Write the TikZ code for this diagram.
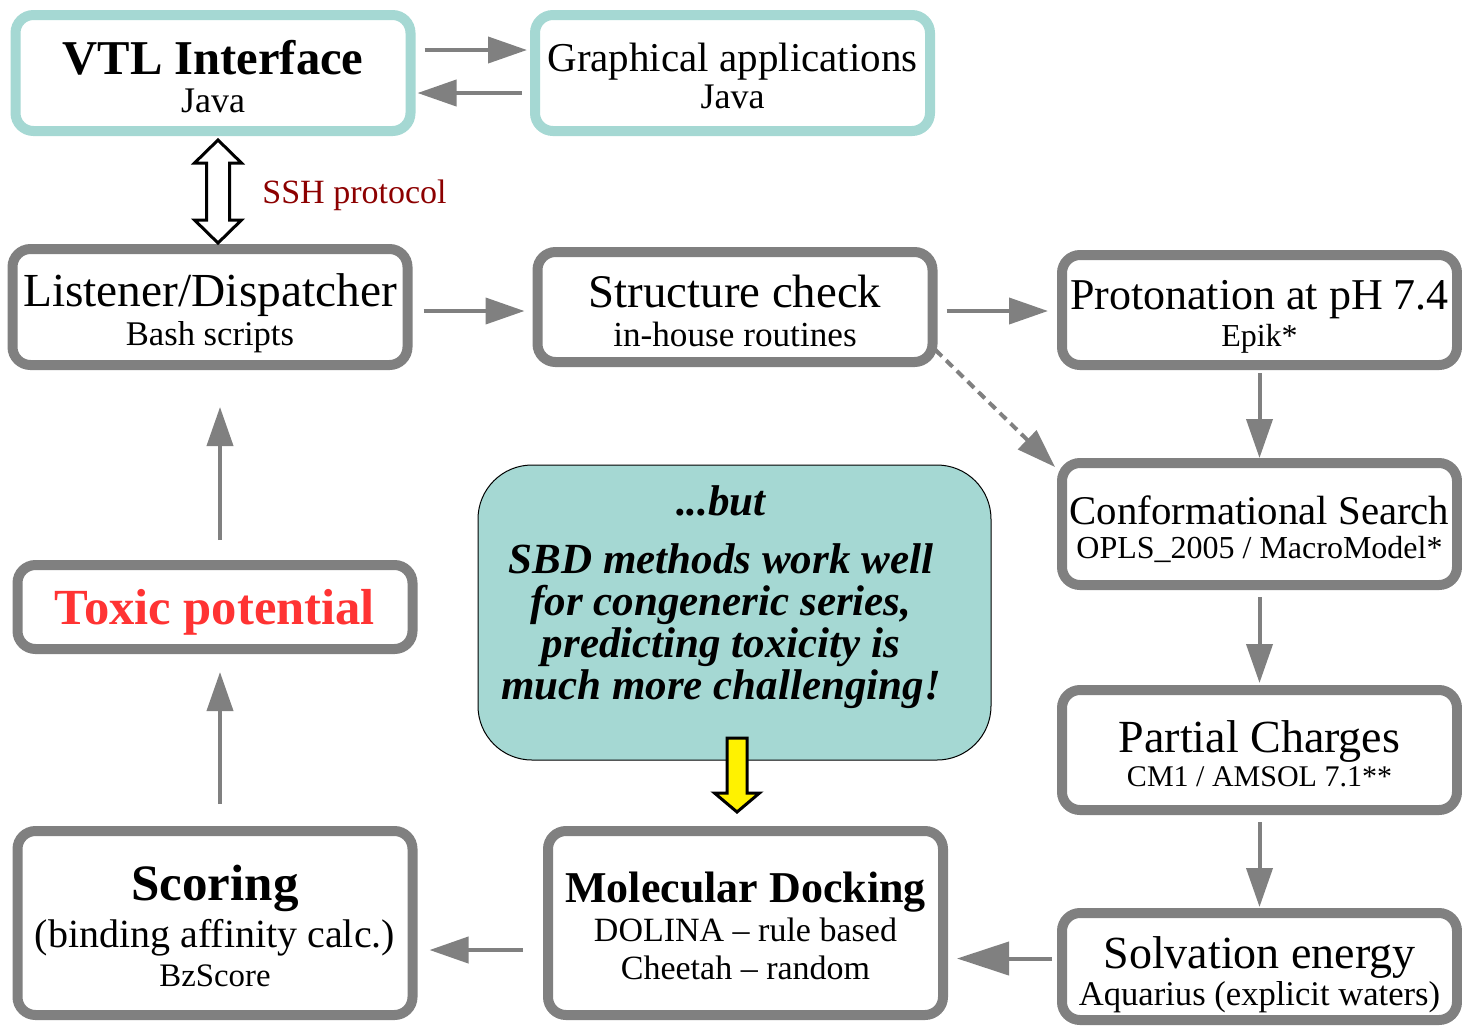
\documentclass[tikz,border=0pt]{standalone}
\usepackage{fontspec}
\setmainfont{Liberation Serif}
\usetikzlibrary{arrows.meta,calc}

\definecolor{boxgray}{RGB}{128,128,128}
\definecolor{boxcyan}{RGB}{165,216,211}
\definecolor{sshred}{RGB}{140,0,0}
\definecolor{toxred}{RGB}{255,51,51}

\newcommand\fs[2][19]{\fontsize{#2}{#1}\selectfont}
% title line with a strut on top (pushes the text block down)
\newcommand\ttl[3][5pt]{{\fs{#2}\rule{0pt}{\dimexpr0.7em+#1\relax}#3}}

\begin{document}
\begin{tikzpicture}[x=0.5pt,y=-0.5pt,
  box/.style={draw=boxgray, line width=5pt, rounded corners=9pt, fill=white,
    align=center, inner sep=0pt, minimum width=197.5pt, font=\fs{20}},
  javabox/.style={box, draw=boxcyan},
  flow/.style={draw=boxgray, line width=2pt, -{Triangle[length=19.5pt,width=13pt]}},
  blockarrow/.style={draw=black, line width=1.5pt, line join=miter}]

\useasboundingbox (0,0) rectangle (1462,1025);

% Java side
\node[javabox, minimum height=58pt] (vtl) at (213,73)
  {\ttl[4pt]{24.3}{\bfseries VTL Interface}\\{\fs{18}Java}};
\node[javabox, minimum height=58pt] (graph) at (732.5,73)
  {\ttl[3pt]{20.5}{Graphical applications}\\[-0.5pt]{\fs{18}Java}};

% Pipeline boxes
\node[box, minimum height=58pt] (listener) at (210,307)
  {\ttl[6pt]{23.7}{Listener/Dispatcher}\\[0.5pt]{\fs{17.3}Bash scripts}};
\node[box, minimum height=55pt] (check) at (735,307)
  {\ttl[4pt]{23.4}{Structure check}\\[0.5pt]{\fs{17.6}in-house routines}};
\node[box, minimum height=55pt] (proton) at (1259.5,310)
  {\ttl[6pt]{22}{Protonation at pH 7.4}\\[-0.5pt]{\fs{16}Epik*}};
\node[box, minimum height=61pt] (conf) at (1259.5,524)
  {\ttl{20.4}{Conformational Search}\\[-2pt]{\fs{16}OPLS\_2005 / MacroModel*}};
\node[box, minimum height=60pt] (partial) at (1259.5,750)
  {\ttl[4pt]{23}{Partial Charges}\\[-2pt]{\fs{15}CM1 / AMSOL 7.1**}};
\node[box, minimum height=53.5pt] (solv) at (1259.5,966.5)
  {\ttl[8pt]{23}{Solvation energy}\\[-0.5pt]{\fs{17.3}Aquarius (explicit waters)}};
\node[box, minimum height=92pt] (dock) at (745.5,923)
  {\ttl[3pt]{22}{\bfseries Molecular Docking}\\[0.5pt]{\fs{17}DOLINA – rule based}\\{\fs{17}Cheetah – random}};
\node[box, minimum height=92pt] (score) at (215,923)
  {\ttl[3pt]{25.5}{\bfseries Scoring}\\[3pt]{\fs{20}(binding affinity calc.)}\\[0.5pt]{\fs{16.4}BzScore}};
\node[box, minimum height=42pt] (toxic) at (215,607)
  {\ttl{25.3}{\bfseries\color{toxred}Toxic potential}};

% Callout
\node[draw=black, line width=0.5pt, fill=boxcyan, rounded corners=27pt,
  minimum width=256.5pt, minimum height=147.5pt] (callout) at (734.5,612.5) {};
\node[font={\fs[21]{21.5}\bfseries\itshape}, align=center] (moral) at (721,597.5)
  {...but\\[8pt]SBD methods work well\\for congeneric series,\\predicting toxicity is\\much more challenging!};

% Block arrows
\coordinate (sshtop) at ($(vtl.south)+(5,4)$);
\draw[blockarrow, fill=white] (sshtop) -- ++(23.5,23) -- ++(-12,0) -- ++(0,57) -- ++(12,0)
  -- ++(-23.5,23) -- ++(-23.5,-23) -- ++(12,0) -- ++(0,-57) -- ++(-12,0) -- cycle;
\node[font=\fs{17}, text=sshred, anchor=west, inner sep=0pt] (ssh) at ($(sshtop)+(44,55.5)$) {SSH protocol};

\coordinate (ytip) at ($(dock.north)+(-8.5,-14)$);
\draw[blockarrow, fill=yellow] (ytip) -- ++(22.5,-19) -- ++(-12.5,0) -- ++(0,-55) -- ++(-20,0)
  -- ++(0,55) -- ++(-12.5,0) -- cycle;

% Flow
\draw[flow, shorten <=4.5pt, shorten >=1.5pt] ([yshift=11.5pt]vtl.east) -- ([yshift=11.5pt]vtl.east -| graph.west);
\draw[flow, shorten <=4pt, shorten >=1pt] ([yshift=-10pt]graph.west) -- ([yshift=-10pt]graph.west -| vtl.east);
\draw[flow, shorten <=5.5pt, shorten >=4pt] ([yshift=-2pt]listener.east) -- ([yshift=-2pt]listener.east -| check.west);
\draw[flow, shorten <=4.5pt, shorten >=4.5pt] ([yshift=-2pt]check.east) -- ([yshift=-2pt]check.east -| proton.west);
\draw[flow, dash pattern=on 4.5pt off 3pt] ([xshift=-1pt,yshift=8.5pt]check.south east) -- ([xshift=-1pt,yshift=-4.5pt]conf.north west);
\draw[flow, shorten <=1.5pt] (proton) -- (conf);
\draw[flow, shorten <=3.5pt, shorten >=1pt] (conf) -- (partial);
\draw[flow, shorten <=3.5pt, shorten >=0.5pt] (partial) -- (solv);
\draw[flow, -{Triangle[length=26pt,width=16.5pt]}, shorten <=2.5pt, shorten >=4.5pt] ([yshift=4pt]solv.west) -- ([yshift=4pt]solv.west -| dock.east);
\draw[flow, shorten <=10pt, shorten >=6pt] ([yshift=-13.5pt]dock.west) -- ([yshift=-13.5pt]dock.west -| score.east);
\draw[flow, shorten <=11pt, shorten >=9pt] ([xshift=2.5pt]score.north) -- ([xshift=2.5pt]score.north |- toxic.south);
\draw[flow, shorten <=10pt, shorten >=18.5pt] ([xshift=2.5pt]toxic.north) -- ([xshift=2.5pt]toxic.north |- listener.south);
\end{tikzpicture}
\end{document}
